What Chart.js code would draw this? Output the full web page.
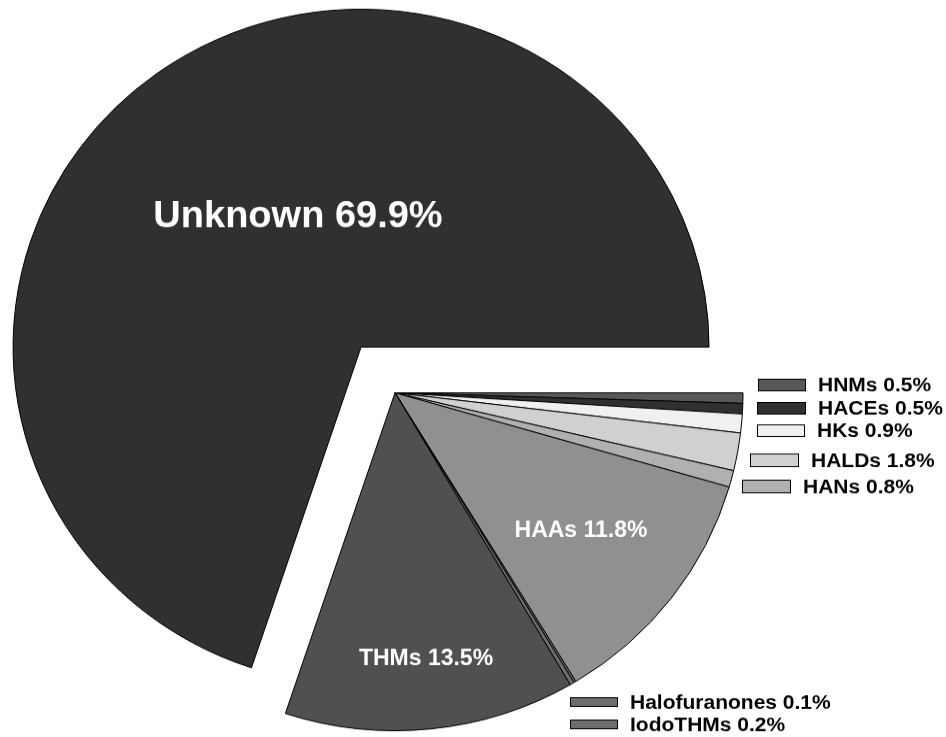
<!DOCTYPE html>
<html>
<head>
<meta charset="utf-8">
<script src="https://cdn.jsdelivr.net/npm/chart.js@4.4.1/dist/chart.umd.min.js"></script>
<style>
    html, body { margin: 0; padding: 0; background: #fff; overflow: hidden; }
    /* the pie is slightly flattened vertically */
    #wrap { width: 946px; height: 759px; transform: scaleY(0.971); transform-origin: 0 0; }
</style>
</head>
<body>
<div id="wrap"><canvas id="dbpPie"></canvas></div>
<script>
// DBP classes, clockwise from 3 o'clock
const classes = ['HNMs', 'HACEs', 'HKs', 'HALDs', 'HANs', 'HAAs', 'Halofuranones', 'IodoTHMs', 'THMs', 'Unknown'];
const shares = [0.5, 0.5, 0.9, 1.8, 0.8, 11.8, 0.1, 0.2, 13.5, 69.9];
const fills = ['#585858', '#303030', '#f0f0f0', '#d0d0d0', '#b0b0b0', '#909090', '#6e6e6e', '#6e6e6e', '#505050', '#303030'];
const pullOut = [0, 0, 0, 0, 0, 0, 0, 0, 0, 58];

// labels written on the big slices
const insideLabels = {
    Unknown: { x: 298, y: 224, size: 38 },
    HAAs: { x: 581, y: 547, size: 23 },
    THMs: { x: 426, y: 679, size: 23 }
};

// small boxes with text for the thin slices
const callouts = {
    HNMs:          { x: 758, y: 390, w: 48, h: 13 },
    HACEs:         { x: 757, y: 414, w: 49, h: 13 },
    HKs:           { x: 757, y: 437, w: 48, h: 13 },
    HALDs:         { x: 750, y: 467, w: 49, h: 14 },
    HANs:          { x: 742, y: 494, w: 49, h: 14 },
    Halofuranones: { x: 570, y: 718, w: 48, h: 10 },
    IodoTHMs:      { x: 570, y: 741, w: 48, h: 10 }
};

function labelText(i) {
    return classes[i] + ' ' + shares[i].toFixed(1) + '%';
}

// exploded slices: move the whole arc out along its middle angle
// (the built-in offset option in v4 also grows the radius, so it is not used)
const explode = {
    id: 'explode',
    afterDatasetsUpdate(chart) {
        const meta = chart.getDatasetMeta(0);
        meta.data.forEach((arc, i) => {
            const d = pullOut[i];
            if (!d) return;
            const mid = (arc.startAngle + arc.endAngle) / 2;
            arc.x += Math.cos(mid) * d;
            arc.y += Math.sin(mid) * d;
        });
    }
};

const pieLabels = {
    id: 'pieLabels',
    afterDatasetsDraw(chart) {
        const ctx = chart.ctx;
        const colors = chart.data.datasets[0].backgroundColor;
        ctx.save();
        classes.forEach((name, i) => {
            const inside = insideLabels[name];
            if (inside) {
                ctx.font = 'bold ' + inside.size + 'px "Liberation Sans", Arial, sans-serif';
                ctx.fillStyle = '#ffffff';
                ctx.textAlign = 'center';
                ctx.textBaseline = 'middle';
                ctx.fillText(labelText(i), inside.x, inside.y);
            }
            const box = callouts[name];
            if (box) {
                ctx.fillStyle = colors[i];
                ctx.fillRect(box.x, box.y, box.w, box.h);
                ctx.lineWidth = 1;
                ctx.strokeStyle = '#000000';
                ctx.strokeRect(box.x + 0.5, box.y + 0.5, box.w - 1, box.h - 1);

                ctx.font = 'bold 20px "Liberation Sans", Arial, sans-serif';
                ctx.fillStyle = '#000000';
                ctx.textAlign = 'left';
                ctx.textBaseline = 'middle';
                ctx.save();
                ctx.translate(box.x + box.w + 12, box.y + box.h / 2 + 1);
                ctx.scale(1.05, 1);
                ctx.fillText(labelText(i), 0, 0);
                ctx.restore();
            }
        });
        ctx.restore();
    }
};

new Chart(document.getElementById('dbpPie'), {
    type: 'pie',
    data: {
        labels: classes,
        datasets: [{
            data: shares,
            backgroundColor: fills,
            borderColor: '#000000',
            borderWidth: 1
        }]
    },
    options: {
        responsive: true,
        maintainAspectRatio: false,
        animation: false,
        rotation: 90,
        radius: 348,
        layout: {
            padding: { left: 0, right: 156, top: 50, bottom: 0 }
        },
        plugins: {
            legend: { display: false },
            tooltip: { enabled: false }
        }
    },
    plugins: [explode, pieLabels]
});
</script>
</body>
</html>
